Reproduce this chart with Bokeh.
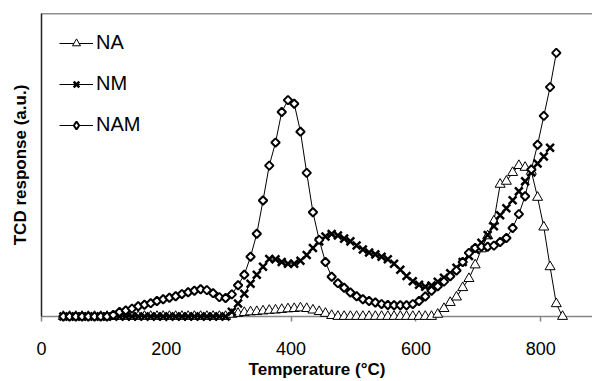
from math import pi
from bokeh.plotting import figure
from bokeh.models import Range1d, FixedTicker, Span
from bokeh.embed import file_html
from bokeh.resources import INLINE

temperature = [35, 45, 55, 65, 75, 85, 95, 105, 115, 125, 135, 145, 155, 165, 175, 185,
               195, 205, 215, 225, 235, 245, 255, 265, 275, 285, 295, 305, 315, 325, 335,
               345, 355, 365, 375, 385, 395, 405, 415, 425, 435, 445, 455, 465, 475, 485,
               495, 505, 515, 525, 535, 545, 555, 565, 575, 585, 595, 605, 615, 625, 635,
               645, 655, 665, 675, 685, 695, 705, 715, 725, 735, 745, 755, 765, 775, 785,
               795, 805, 815, 825, 835]

na = [0, 0, 0, 0, 0, 0, 0, 0, 0, 0, 0, 0, 0, 0, 0, 0, 0, 0, 0, 0, 0, 0, 0, 0, 0, 0, 0,
      0.7, 1.0, 1.3, 1.5, 1.6, 1.8, 2.0, 2.1, 2.3, 2.5, 2.6, 2.8, 2.6, 2.1, 1.6, 1.0, 0.3,
      0, 0, 0, 0, 0, 0, 0, 0, 0, 0, 0, 0, 0, 0, 0, 0,
      0.7, 2.6, 4.6, 6.4, 9.5, 12.5, 17.0, 22.3, 26.6, 31.5, 43.6, 44.6, 47.5, 49.8,
      49.2, 47.9, 39.3, 29.5, 16.4, 4.2, 0]

nm = [0, 0, 0, 0, 0, 0, 0, 0, 0, 0, 0, 0, 0, 0, 0, 0, 0, 0, 0, 0, 0, 0, 0, 0, 0, 0, 0,
      1.6, 4.3, 7.5, 10.8, 13.8, 16.4, 19.0, 18.9, 18.0, 17.4, 17.4, 18.4, 20.3, 22.6,
      24.8, 26.4, 27.2, 26.7, 25.7, 24.8, 23.4, 22.1, 21.1, 20.5, 19.7, 18.9, 17.4, 15.4,
      13.4, 11.6, 10.5, 9.8, 10.2, 11.5, 12.8, 14.3, 16.1, 18.0, 20.0, 22.0, 24.3, 26.9,
      29.8, 33.4, 35.7, 38.4, 41.3, 44.6, 47.5, 50.5, 52.8, 55.7]

nam = [0, 0, 0, 0, 0, 0, 0, 0,
       0.5, 1.5, 2.0, 2.6, 3.4, 3.9, 4.4, 5.1, 5.7, 6.2, 6.7, 7.4, 8.0, 8.5, 9.0, 8.7, 7.7,
       6.4, 6.1, 7.3, 10.3, 13.8, 19.7, 27.3, 38.3, 49.8, 57.4, 67.5, 71.4, 70.2, 61.0,
       47.4, 34.4, 25.3, 18.0, 13.1, 11.0, 9.5, 7.9, 6.7, 5.7, 5.1, 4.6, 4.1, 3.8, 3.7,
       3.7, 3.7, 4.1, 5.1, 6.6, 8.5, 10.0, 11.5, 13.3, 15.2, 18.0, 21.0, 22.6, 23.0, 23.0,
       23.4, 24.6, 25.9, 29.2, 33.8, 39.7, 48.5, 56.7, 66.2, 75.7, 87.0]

x_ticks = [0, 200, 400, 600, 800]

FONT = "Liberation Sans"

p = figure(width=592, height=381, output_backend="svg", toolbar_location=None,
           x_range=Range1d(0, 883), y_range=Range1d(0, 100),
           min_border_left=41, min_border_right=0, min_border_top=13, min_border_bottom=0)
p.outline_line_color = None
p.grid.visible = False
p.background_fill_color = "white"

# x axis
xa = p.xaxis[0]
xa.ticker = FixedTicker(ticks=x_ticks)
xa.axis_line_color = "#868686"
xa.axis_line_width = 1.5
xa.major_tick_line_color = "#868686"
xa.major_tick_line_width = 1.5
xa.major_tick_out = 5
xa.major_tick_in = 0
xa.minor_tick_line_color = None
xa.major_label_standoff = 20
xa.major_label_text_font = FONT
xa.major_label_text_font_size = "18px"
xa.major_label_text_color = "black"
xa.axis_label = "Temperature (°C)"
xa.axis_label_text_font = FONT
xa.axis_label_text_font_size = "17px"
xa.axis_label_text_font_style = "bold"
xa.axis_label_text_color = "black"
xa.axis_label_standoff = 2

# y axis
ya = p.yaxis[0]
ya.ticker = FixedTicker(ticks=[])
ya.axis_line_color = "#222222"
ya.axis_line_width = 1.5
ya.major_tick_line_color = None
ya.minor_tick_line_color = None
ya.major_label_text_font_size = "0px"
ya.axis_label = "TCD response (a.u.)"
ya.axis_label_text_font = FONT
ya.axis_label_text_font_size = "17px"
ya.axis_label_text_font_style = "bold"
ya.axis_label_text_color = "black"
ya.axis_label_standoff = 12

p.add_layout(Span(location=100, dimension="width", line_color="#222222", line_width=1.5))

t_na = temperature[:len(na)]
t_nm = temperature[:len(nm)]
t_nam = temperature[:len(nam)]

r1 = p.line(t_na, na, line_color="black", line_width=1, legend_label="NA")
s1 = p.scatter(t_na, na, marker="triangle", size=10, fill_color="white",
               line_color="black", line_width=1, legend_label="NA")
r2 = p.line(t_nm, nm, line_color="black", line_width=1, legend_label="NM")
s2 = p.scatter(t_nm, nm, marker="x", size=11, line_color="black", line_width=2.5,
               legend_label="NM")
r3 = p.line(t_nam, nam, line_color="black", line_width=1, legend_label="NAM")
s3 = p.scatter(t_nam, nam, marker="square", angle=pi / 4, size=6, fill_color="white",
               line_color="black", line_width=2)
for r in (r1, s1, r2, s2, r3, s3):
    r.level = "overlay"

# legend-only glyph for the diamond marker (legend ignores marker rotation);
# its single point lies far outside the visible frame and is clipped away
s3_legend = p.scatter(x=[-5000], y=[-5000], marker="diamond", size=11, fill_color="white",
                      line_color="black", line_width=2, legend_label="NAM")

lg = p.legend[0]
lg.location = "top_left"
lg.margin = 18
lg.padding = 10
lg.spacing = 18
lg.glyph_width = 34
lg.glyph_height = 20
lg.label_height = 20
lg.label_standoff = 3
lg.label_text_font = FONT
lg.label_text_font_size = "20px"
lg.label_text_color = "black"
lg.background_fill_alpha = 0
lg.border_line_color = None

open("out.html", "w").write(file_html(p, INLINE))
